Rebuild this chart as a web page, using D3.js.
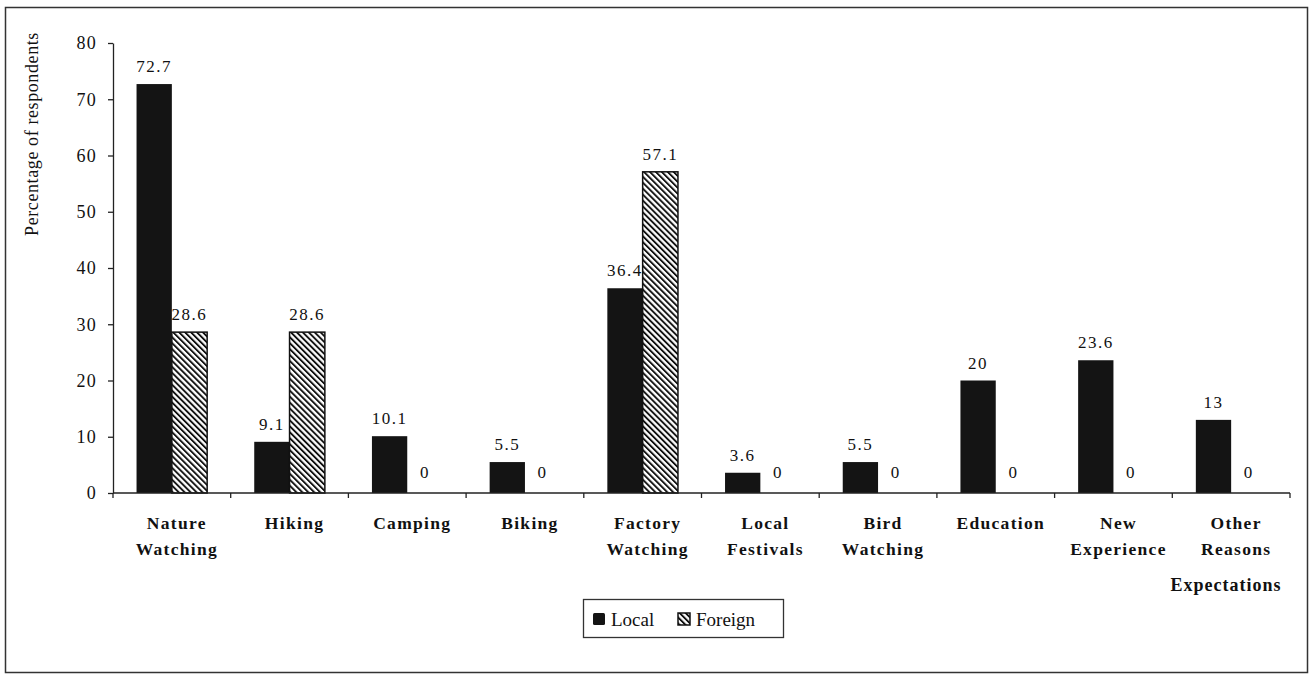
<!DOCTYPE html>
<html>
<head>
<meta charset="utf-8">
<script src="https://cdn.jsdelivr.net/npm/d3@7"></script>
<style>
  html, body { margin: 0; padding: 0; background: #fff; }
  svg text { font-family: "Liberation Serif", "Times New Roman", serif; fill: #111; }
</style>
</head>
<body>
<svg id="chart" width="1315" height="675"></svg>
<script>
// Expectations of visitors, local vs foreign respondents (%)
const categories = [
  ["Nature", "Watching"], ["Hiking"], ["Camping"], ["Biking"],
  ["Factory", "Watching"], ["Local", "Festivals"], ["Bird", "Watching"],
  ["Education"], ["New", "Experience"], ["Other", "Reasons"]
];
const localValues   = [72.7, 9.1, 10.1, 5.5, 36.4, 3.6, 5.5, 20, 23.6, 13];
const foreignValues = [28.6, 28.6, 0, 0, 57.1, 0, 0, 0, 0, 0];
const seriesNames = ["Local", "Foreign"];
const yTicks = [0, 10, 20, 30, 40, 50, 60, 70, 80];

const svg = d3.select("#chart");
const margin = { left: 113, right: 1290, top: 43, bottom: 493 };

// Outer frame
svg.append("rect")
  .attr("x", 5.5).attr("y", 7.5).attr("width", 1302).attr("height", 665)
  .attr("fill", "none").attr("stroke", "#333").attr("stroke-width", 1.5);

// Hatch pattern for foreign bars
const defs = svg.append("defs");
const pat = defs.append("pattern")
  .attr("id", "hatch").attr("patternUnits", "userSpaceOnUse")
  .attr("width", 4.2).attr("height", 4.2)
  .attr("patternTransform", "rotate(-45)");
pat.append("rect").attr("width", 4.2).attr("height", 4.2).attr("fill", "#fff");
pat.append("rect").attr("x", 0).attr("y", 0).attr("width", 1.9).attr("height", 4.2).attr("fill", "#111");

const idx = d3.range(categories.length);
const x = d3.scaleBand().domain(idx).range([margin.left, margin.right]).paddingInner(0.4).paddingOuter(0.2);
const xs = d3.scaleBand().domain(seriesNames).range([0, x.bandwidth()]);
const y = d3.scaleLinear().domain([0, 80]).range([margin.bottom, margin.top]);

// Y axis
const yAxis = svg.append("g")
  .attr("transform", `translate(${margin.left},0)`)
  .call(d3.axisLeft(y).tickValues(yTicks).tickSize(5).tickPadding(11).tickSizeOuter(0));
yAxis.select(".domain").attr("stroke", "#222").attr("stroke-width", 1.3);
yAxis.selectAll(".tick line").attr("stroke", "#222").attr("stroke-width", 1.3);
yAxis.selectAll(".tick text").style("font-size", "18px").style("letter-spacing", "1.2px").attr("fill", "#111");

// Bars
const groups = svg.append("g").selectAll("g").data(idx).join("g")
  .attr("transform", i => `translate(${x(i)},0)`);

groups.append("rect")
  .attr("x", xs("Local")).attr("width", xs.bandwidth())
  .attr("y", i => y(localValues[i]))
  .attr("height", i => y(0) - y(localValues[i]))
  .attr("fill", "#141414");

groups.filter(i => foreignValues[i] > 0).append("rect")
  .attr("x", xs("Foreign")).attr("width", xs.bandwidth())
  .attr("y", i => y(foreignValues[i]))
  .attr("height", i => y(0) - y(foreignValues[i]))
  .attr("fill", "url(#hatch)").attr("stroke", "#111").attr("stroke-width", 1.5);

// Value labels
groups.append("text")
  .attr("x", xs("Local") + xs.bandwidth() / 2)
  .attr("y", i => y(localValues[i]) - 12)
  .attr("text-anchor", "middle")
  .style("font-size", "17px").style("letter-spacing", "1.5px")
  .text(i => localValues[i]);

groups.append("text")
  .attr("x", xs("Foreign") + xs.bandwidth() / 2)
  .attr("y", i => foreignValues[i] > 0 ? y(foreignValues[i]) - 12 : y(0) - 15)
  .attr("text-anchor", "middle")
  .style("font-size", "17px").style("letter-spacing", "1.5px")
  .text(i => foreignValues[i]);

// X axis with ticks at category boundaries
const xAxisG = svg.append("g");
xAxisG.append("line")
  .attr("x1", margin.left).attr("x2", margin.right)
  .attr("y1", y(0)).attr("y2", y(0))
  .attr("stroke", "#222").attr("stroke-width", 1.3);
const step = (margin.right - margin.left) / categories.length;
xAxisG.selectAll("line.tk").data(d3.range(categories.length + 1)).join("line")
  .attr("class", "tk")
  .attr("x1", k => margin.left + k * step).attr("x2", k => margin.left + k * step)
  .attr("y1", y(0)).attr("y2", y(0) + 5)
  .attr("stroke", "#222").attr("stroke-width", 1.3);

// Category labels
const catText = svg.append("g").selectAll("text").data(idx).join("text")
  .attr("x", i => margin.left + (i + 0.5) * step + 5)
  .attr("y", 529)
  .attr("text-anchor", "middle")
  .style("font-size", "17.5px").style("font-weight", "bold").style("letter-spacing", "1.3px");
catText.selectAll("tspan").data(i => categories[i]).join("tspan")
  .attr("x", function () { return d3.select(this.parentNode).attr("x"); })
  .attr("dy", (d, k) => k === 0 ? 0 : 26)
  .text(d => d);

// Axis titles
svg.append("text")
  .attr("transform", "translate(38,134) rotate(-90)")
  .attr("text-anchor", "middle")
  .style("font-size", "18px").style("letter-spacing", "0.6px")
  .text("Percentage of respondents");

svg.append("text")
  .attr("x", 1226).attr("y", 591)
  .attr("text-anchor", "middle")
  .style("font-size", "18px").style("font-weight", "bold").style("letter-spacing", "1px")
  .text("Expectations");

// Legend
const lg = svg.append("g");
lg.append("rect")
  .attr("x", 583.5).attr("y", 599.5).attr("width", 200).attr("height", 38)
  .attr("fill", "#fff").attr("stroke", "#333").attr("stroke-width", 1.3);
lg.append("rect").attr("x", 593).attr("y", 613).attr("width", 12).attr("height", 12).attr("fill", "#141414").attr("rx", 1.5);
lg.append("text").attr("x", 611).attr("y", 626).style("font-size", "19px").text(seriesNames[0]);
lg.append("rect").attr("x", 678).attr("y", 613).attr("width", 12).attr("height", 12)
  .attr("fill", "url(#hatch)").attr("stroke", "#111").attr("stroke-width", 1.5);
lg.append("text").attr("x", 696).attr("y", 626).style("font-size", "19px").text(seriesNames[1]);
</script>
</body>
</html>
